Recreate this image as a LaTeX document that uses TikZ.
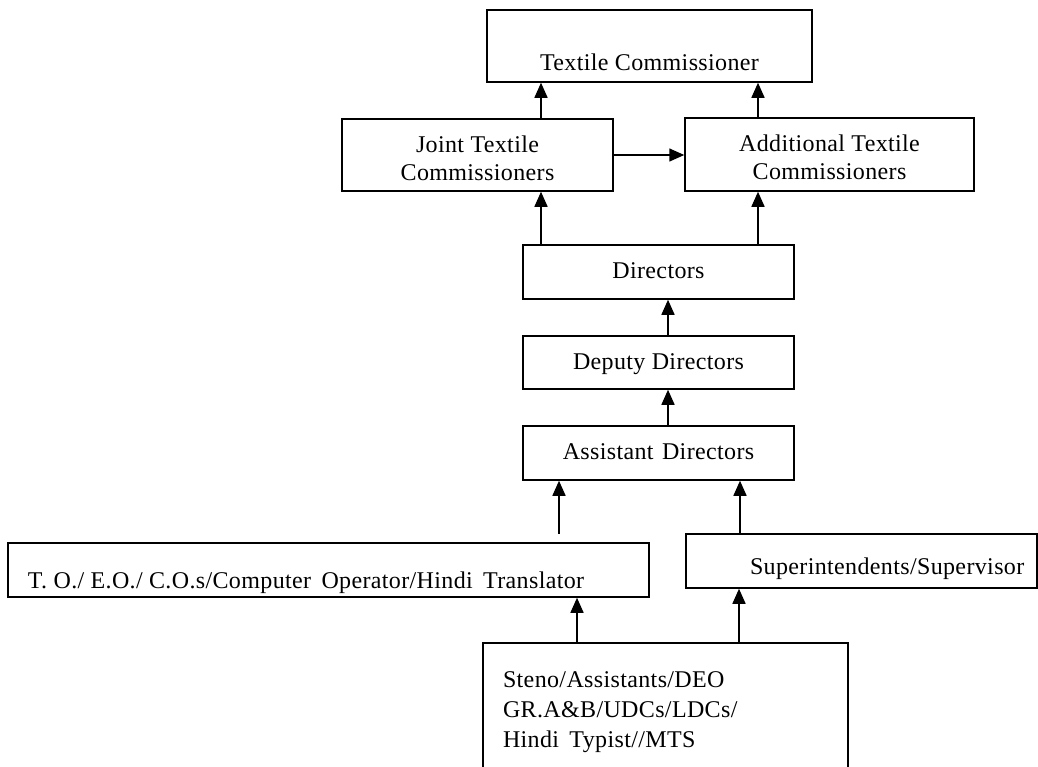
\documentclass[tikz,border=0pt]{standalone}
\usepackage{fontspec}
\setmainfont{Liberation Serif}[LetterSpace=1.5]
\usetikzlibrary{arrows.meta}
\begin{document}
\begin{tikzpicture}[x=1pt,y=-1pt,
  box/.style={draw, line width=1.5pt, inner sep=0pt, font=\fontsize{24}{28}\selectfont},
  arr/.style={line width=1.5pt, -{Triangle[width=13pt,length=15pt]}}]
\clip (0,0) rectangle (1038,766);
\fill[white] (0,0) rectangle (1038,766);
% columns for connectors
\coordinate (colA) at (541,0);
\coordinate (colB) at (758,0);
\coordinate (colC) at (668,0);
\coordinate (colE) at (740,0);
\coordinate (colF) at (577,0);
\coordinate (colG) at (739,0);
\coordinate (tofree) at (559,534);
% boxes
\node[box, minimum width=325pt, text height=60pt, text depth=12pt] (tc) at (649.5,46) {Textile Commissioner};
\node[box, minimum width=271pt, text height=33pt, text depth=39pt] (joint) at (477.5,155)
  {\begin{tabular}[t]{@{}c@{}}Joint Textile\\Commissioners\end{tabular}};
\node[box, minimum width=289pt, text height=33pt, text depth=40pt] (add) at (829.5,154.5)
  {\begin{tabular}[t]{@{}c@{}}Additional Textile\\Commissioners\end{tabular}};
\node[box, minimum width=271pt, text height=33pt, text depth=21pt] (dir) at (658.5,272) {Directors};
\node[box, minimum width=271pt, text height=33pt, text depth=20pt] (dep) at (658.5,362.5) {Deputy Directors};
\node[box, minimum width=271pt, text height=33pt, text depth=21pt] (ast) at (658.5,453) {Assistant\hspace{2pt} Directors};
\node[box, text height=45pt, text depth=9pt] (to) at (328.5,570)
  {\makebox[641pt][l]{\hspace{20pt}T. O./ E.O./ C.O.s/Computer\hspace{4pt} Operator/Hindi\hspace{4pt} Translator}};
\node[box, text height=40pt, text depth=14pt] (sup) at (861.5,561)
  {\makebox[351pt][l]{\hspace{64pt}Superintendents/Supervisor}};
\node[box, text height=44pt, text depth=96pt] (bot) at (665.5,713)
  {\makebox[365pt][l]{\hspace{20pt}\fontsize{24}{30}\selectfont\begin{tabular}[t]{@{}l@{}}Steno/Assistants/DEO\\GR.A\&B/UDCs/LDCs/\\Hindi\hspace{4pt} Typist//MTS\end{tabular}}};
% connectors
\draw[arr] (joint.north -| colA) -- (tc.south -| colA);
\draw[arr] (add.north -| colB) -- (tc.south -| colB);
\draw[arr] (joint.east) -- (joint.east -| add.west);
\draw[arr] (dir.north -| colA) -- (joint.south -| colA);
\draw[arr] (dir.north -| colB) -- (add.south -| colB);
\draw[arr] (dep.north -| colC) -- (dir.south -| colC);
\draw[arr] (ast.north -| colC) -- (dep.south -| colC);
\draw[arr] (tofree) -- (ast.south -| tofree);
\draw[arr] (sup.north -| colE) -- (ast.south -| colE);
\draw[arr] (bot.north -| colF) -- (to.south -| colF);
\draw[arr] (bot.north -| colG) -- (sup.south -| colG);
\end{tikzpicture}
\end{document}
